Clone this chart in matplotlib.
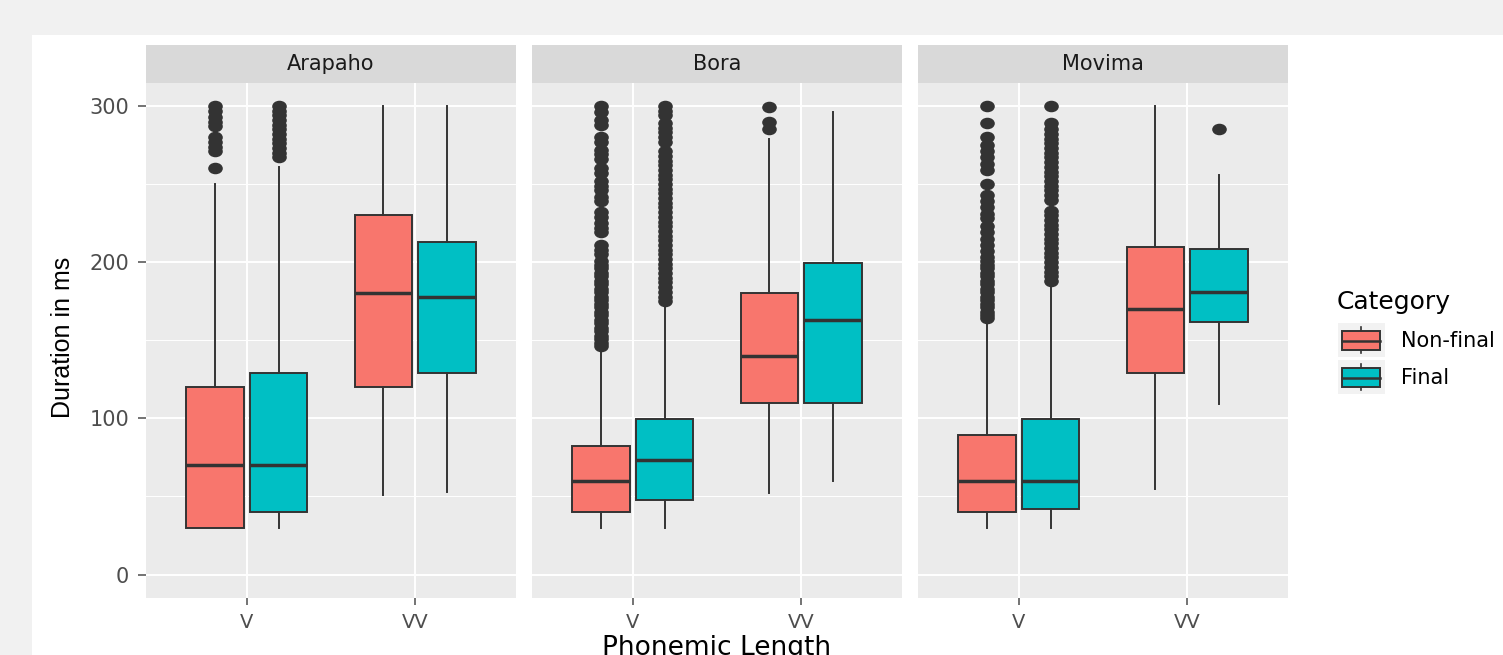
import matplotlib
matplotlib.use("Agg")
import matplotlib.pyplot as plt
from matplotlib.patches import Rectangle
from matplotlib.lines import Line2D
from matplotlib.path import Path
from matplotlib.transforms import Affine2D

W, H = 1503, 655

languages = ["Arapaho", "Bora", "Movima"]
lengths = ["V", "VV"]
categories = ["Non-final", "Final"]
fill_colors = ["#F8766D", "#00BFC4"]

# box order per language: V/Non-final, V/Final, VV/Non-final, VV/Final
# each box: (lower whisker, Q1, median, Q3, upper whisker)
arapaho_stats = [(30, 30, 70, 120, 250), (30, 40, 70, 129, 261),
                 (51, 120, 180, 230, 300), (53, 129, 178, 213, 300)]
bora_stats = [(30, 40, 60, 82, 144), (30, 48, 73.5, 99.6, 174),
              (52, 110, 140, 180, 279), (59.6, 110, 163, 199.5, 296)]
movima_stats = [(30, 40, 60, 89.5, 163.5), (30, 42, 60, 99.6, 186),
                (55, 129, 170, 209.5, 300), (109.5, 162, 181, 208.5, 255.5)]

arapaho_outliers = [
    [300, 297, 293, 290, 287, 280, 277, 274, 271, 260],
    [300, 297, 294, 291, 288, 285, 282, 279, 276, 273, 270, 267],
    [],
    [],
]
bora_outliers = [
    [300, 296, 291, 288, 280, 277, 272, 269, 266, 260, 257, 252, 249, 246, 242,
     239, 232, 229, 225, 222, 219, 211, 208, 205, 201, 198, 196, 193, 191, 188,
     186, 183, 181, 178, 176, 173, 171, 168, 166, 163, 161, 158, 156, 153, 151,
     148, 146],
    [300, 297, 294, 289, 286, 283, 280, 277, 271, 268, 265, 262, 259, 256, 253,
     250, 247, 244, 241, 238, 235, 232, 229, 226, 223, 220, 217, 214, 211, 208,
     205, 202, 199, 196, 193, 190, 187, 184, 181, 178, 175],
    [299, 290, 285],
    [],
]
movima_outliers = [
    [300, 289, 280, 275, 271, 267, 263, 259, 250, 243, 239, 235, 231, 228, 223,
     219, 215, 211, 207, 203, 201, 198, 196, 193, 191, 188, 186, 183, 181, 178,
     176, 173, 171, 168, 166, 164],
    [300, 289, 285, 282, 279, 276, 273, 270, 267, 264, 261, 258, 255, 252, 249,
     246, 243, 240, 233, 230, 227, 224, 221, 218, 215, 212, 209, 206, 203, 200,
     197, 194, 191, 188],
    [],
    [285],
]

all_stats = [arapaho_stats, bora_stats, movima_stats]
all_outliers = [arapaho_outliers, bora_outliers, movima_outliers]

y_ticks = [0, 100, 200, 300]
y_minor = [50, 150, 250]
y_label = "Duration in ms"
x_label = "Phonemic Length"
legend_title = "Category"

plt.rcParams['font.family'] = ['DejaVu Sans']

fig = plt.figure(figsize=(W / 100, H / 100), dpi=100)
fig.patch.set_facecolor("#f1f1f1")
fig.patches.append(Rectangle((32 / W, 0), 1 - 32 / W, 1 - 35 / H,
                             transform=fig.transFigure, facecolor="white",
                             edgecolor="none", zorder=-10))


def fx(x):
    return x / W


def fy(y):
    return 1 - y / H


panel_left = [146, 532, 918]
panel_w = 370
panel_top, panel_bot = 82.5, 598
strip_top = 45

dark = "#333333"
tick_col = "#4d4d4d"
off = 0.19
bw = 0.34

# slightly wide elliptical point marker (screenshot is horizontally stretched)
ellipse = Path.unit_circle().transformed(Affine2D().scale(1.3, 1.0))

for i, lang in enumerate(languages):
    x0 = panel_left[i]
    ax = fig.add_axes([fx(x0), fy(panel_bot), panel_w / W, (panel_bot - panel_top) / H])
    ax.set_zorder(5)
    ax.set_facecolor("#ebebeb")
    for s in ax.spines.values():
        s.set_visible(False)
    ax.set_xlim(0.4, 2.6)
    ax.set_ylim(-15, 315)
    ax.set_axisbelow(True)
    for v in y_minor:
        ax.axhline(v, color="white", lw=0.7, zorder=0)
    for v in y_ticks:
        ax.axhline(v, color="white", lw=1.4, zorder=0)
    for xv in [1, 2]:
        ax.axvline(xv, color="white", lw=1.4, zorder=0)

    bxp_stats = []
    positions = []
    colors = []
    k = 0
    for li, L in enumerate(lengths):
        for ci, c in enumerate(categories):
            lo, q1, med, q3, hi = all_stats[i][k]
            bxp_stats.append(dict(whislo=lo, q1=q1, med=med, q3=q3, whishi=hi,
                                  fliers=all_outliers[i][k]))
            positions.append(li + 1 + (-off if ci == 0 else off))
            colors.append(fill_colors[ci])
            k += 1
    bp = ax.bxp(bxp_stats, positions=positions, widths=bw, patch_artist=True,
                showcaps=False, manage_ticks=False,
                boxprops=dict(edgecolor=dark, linewidth=1.4),
                whiskerprops=dict(color=dark, linewidth=1.4),
                medianprops=dict(color=dark, linewidth=2.5, solid_capstyle="butt"),
                flierprops=dict(marker=ellipse, markerfacecolor=dark,
                                markeredgecolor=dark, markersize=9.5))
    for patch, col in zip(bp["boxes"], colors):
        patch.set_facecolor(col)

    ax.set_xticks([1, 2])
    ax.set_xticklabels(lengths)
    ax.tick_params(axis="x", length=5, width=1.1, color=tick_col,
                   labelcolor=tick_col, labelsize=14, pad=6)
    ax.set_yticks(y_ticks)
    if i == 0:
        ax.set_yticklabels([str(t) for t in y_ticks])
        ax.tick_params(axis="y", length=6, width=1.1, color=tick_col,
                       labelcolor=tick_col, labelsize=15, pad=6)
    else:
        ax.tick_params(axis="y", length=0, labelleft=False)

    # strip
    fig.patches.append(Rectangle((fx(x0), fy(panel_top)), panel_w / W,
                                 (panel_top - strip_top) / H,
                                 transform=fig.transFigure,
                                 facecolor="#d9d9d9", edgecolor="none", zorder=1))
    fig.text(fx(x0 + panel_w / 2), fy((strip_top + panel_top) / 2), lang,
             ha="center", va="center", fontsize=15, color="#1a1a1a")

fig.text(fx(63), fy(337), y_label, rotation=90, ha="center", va="center",
         fontsize=18, color="black", family=["Liberation Sans"])
fig.text(fx(717), fy(655), x_label, ha="center", va="baseline",
         fontsize=19, color="black")

# legend
fig.text(fx(1337), fy(302), legend_title, ha="left", va="center",
         fontsize=18, color="black")
key_y = [323, 360]
for j, c in enumerate(categories):
    ky = key_y[j]
    fig.patches.append(Rectangle((fx(1338), fy(ky + 34)), 47 / W, 34 / H,
                                 transform=fig.transFigure, facecolor="#f2f2f2",
                                 edgecolor="none", zorder=1))
    cx = 1361
    fig.lines.append(Line2D([fx(cx), fx(cx)], [fy(ky + 4), fy(ky + 30)],
                            transform=fig.transFigure, color=dark, lw=1.2, zorder=2))
    fig.patches.append(Rectangle((fx(1342), fy(ky + 27)), 38 / W, 19 / H,
                                 transform=fig.transFigure,
                                 facecolor=fill_colors[j], edgecolor=dark,
                                 lw=1.4, zorder=3))
    fig.lines.append(Line2D([fx(1342), fx(1380)], [fy(ky + 17.5), fy(ky + 17.5)],
                            transform=fig.transFigure, color=dark, lw=1.8, zorder=4))
    fig.text(fx(1401), fy(ky + 18), c, ha="left", va="center", fontsize=15,
             color="black")

fig.savefig("out.png", dpi=100, facecolor=fig.get_facecolor())
